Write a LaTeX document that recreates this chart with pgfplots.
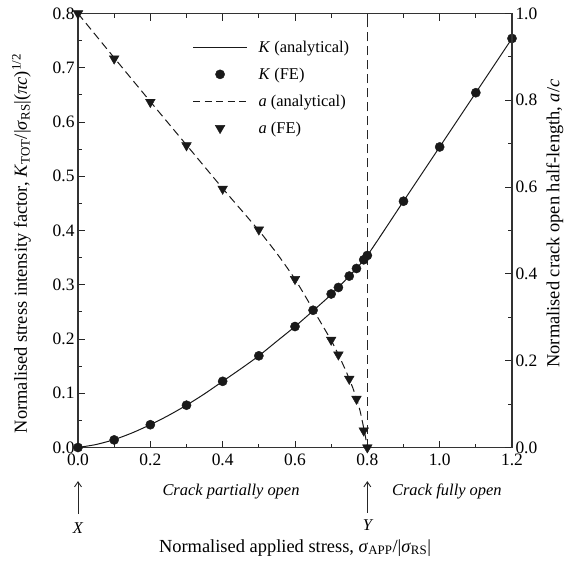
\documentclass[border=0pt]{standalone}
\usepackage{fontspec}
\setmainfont{Liberation Serif}
\usepackage{pgfplots}
\pgfplotsset{compat=1.18}
\usetikzlibrary{arrows.meta}

\pgfplotstableread{
x K
0 0
0.05 0.0055
0.1 0.0145
0.15 0.027
0.2 0.042
0.25 0.059
0.3 0.078
0.35 0.099
0.4 0.122
0.45 0.145
0.5 0.169
0.55 0.196
0.6 0.223
0.65 0.252
0.7 0.282
0.75 0.316
0.8 0.354
0.9 0.454
1.0 0.554
1.1 0.654
1.2 0.754
}\Kana

\pgfplotstableread{
x K
0 0
0.1 0.014
0.2 0.042
0.3 0.078
0.4 0.122
0.5 0.169
0.6 0.223
0.65 0.253
0.7 0.283
0.72 0.295
0.75 0.316
0.77 0.330
0.79 0.346
0.8 0.354
0.9 0.454
1.0 0.554
1.1 0.654
1.2 0.754
}\Kfe

\pgfplotstableread{
x a
0 1.0
0.1 0.898
0.2 0.797
0.3 0.697
0.4 0.597
0.5 0.500
0.55 0.447
0.6 0.388
0.65 0.318
0.7 0.247
0.72 0.214
0.74 0.178
0.75 0.158
0.76 0.137
0.77 0.113
0.78 0.084
0.79 0.045
0.795 0.024
0.8 0
}\Aana

\pgfplotstableread{
x a
0 1.0
0.1 0.896
0.2 0.796
0.3 0.696
0.4 0.596
0.5 0.502
0.6 0.388
0.7 0.248
0.72 0.214
0.75 0.158
0.77 0.112
0.79 0.039
0.8 0
}\Afe

\begin{document}
\begin{tikzpicture}
\pgfplotsset{
  every axis/.append style={
    scale only axis, width=434bp, height=434bp,
    xmin=0, xmax=1.2,
    tick align=inside,
    major tick length=7bp, minor tick length=4bp,
    tick style={black!85, line width=0.9bp},
    axis line style={black!80, line width=1.1bp},
    tick label style={font=\fontsize{17.5}{20}\selectfont},
    label style={font=\fontsize{18.5}{22}\selectfont},
    /pgf/number format/assume math mode=true,
    clip=false,
  },
  legend image code/.code={\draw[mark repeat=2,mark phase=2,#1] plot coordinates {(0bp,0bp) (27bp,0bp) (54bp,0bp)};},
}
\begin{axis}[name=ax,
  ymin=0, ymax=0.8,
  xtick={0,0.2,0.4,0.6,0.8,1.0,1.2}, minor x tick num=1,
  ytick={0,0.1,0.2,0.3,0.4,0.5,0.6,0.7,0.8}, minor y tick num=1,
  ytick pos=left,
  xticklabel style={yshift=-3bp, /pgf/number format/.cd, fixed, fixed zerofill, precision=1},
  yticklabel style={/pgf/number format/.cd, fixed, fixed zerofill, precision=1},
  xlabel={Normalised applied stress, \textit{σ}\textsubscript{APP}/|\textit{σ}\textsubscript{RS}|},
  xlabel style={at={(axis description cs:0.5,-0.231)}, anchor=center},
  ylabel={Normalised stress intensity factor, \textit{K}\textsubscript{TOT}/|\textit{σ}\textsubscript{RS}|(\textit{πc})\textsuperscript{1/2}},
  ylabel style={at={(axis description cs:-0.13,0.47)}, anchor=center},
  legend style={draw=none, fill=none, at={(axis cs:0.308,0.757)}, anchor=north west,
    font=\fontsize{16.5}{19}\selectfont, row sep=10bp,
    /tikz/every odd column/.append style={column sep=9bp}},
  legend cell align=left,
]
\addplot[black!90, line width=1bp, smooth, tension=0.4] table[x=x,y=K] {\Kana};
\addlegendentry{\textit{K} (analytical)}
\addplot[only marks, mark=*, mark size=4.6bp, black!90] table[x=x,y=K] {\Kfe};
\addlegendentry{\textit{K} (FE)}
\addlegendimage{black!90, line width=1bp, dash pattern=on 7bp off 4.5bp}
\addlegendentry{\textit{a} (analytical)}
\addlegendimage{only marks, mark=triangle*, mark size=5.6bp, mark options={rotate=180}, black!90}
\addlegendentry{\textit{a} (FE)}
% vertical dashed line at full opening
\addplot[black!85, line width=0.9bp, dash pattern=on 9bp off 5bp] coordinates {(0.8,0) (0.8,0.8)};
% annotations
\node[font=\itshape\fontsize{16.5}{19}\selectfont] at (axis cs:0.423,-0.0817) {Crack partially open};
\node[font=\itshape\fontsize{16.5}{19}\selectfont] at (axis cs:1.02,-0.0817) {Crack fully open};
\draw[black!85, line width=0.9bp, -{Straight Barb[length=5bp,width=7bp]}] (axis cs:0,-0.123) -- (axis cs:0,-0.062);
\draw[black!85, line width=0.9bp, -{Straight Barb[length=5bp,width=7bp]}] (axis cs:0.8,-0.12) -- (axis cs:0.8,-0.062);
\node[font=\itshape\fontsize{16.5}{19}\selectfont] at (axis cs:0,-0.149) {X};
\node[font=\itshape\fontsize{16.5}{19}\selectfont] at (axis cs:0.8,-0.143) {Y};
\end{axis}
\begin{axis}[
  ymin=0, ymax=1,
  axis x line=none, axis y line*=right,
  ytick={0,0.2,0.4,0.6,0.8,1.0}, minor y tick num=1,
  yticklabel style={/pgf/number format/.cd, fixed, fixed zerofill, precision=1},
  ylabel={Normalised crack open half-length, \textit{a}/\textit{c}},
  ylabel style={at={(axis description cs:1.099,0.516)}, anchor=center, rotate=0},
]
\addplot[black!90, line width=1bp, dash pattern=on 8bp off 4.5bp, smooth, tension=0.3] table[x=x,y=a] {\Aana};
\addplot[only marks, mark=triangle*, mark size=5.6bp, mark options={rotate=180}, black!90] table[x=x,y=a] {\Afe};
\end{axis}
\path (ax.south west) ++(-78bp,-115.5bp) rectangle ++(577bp,563bp);
\end{tikzpicture}
\end{document}
